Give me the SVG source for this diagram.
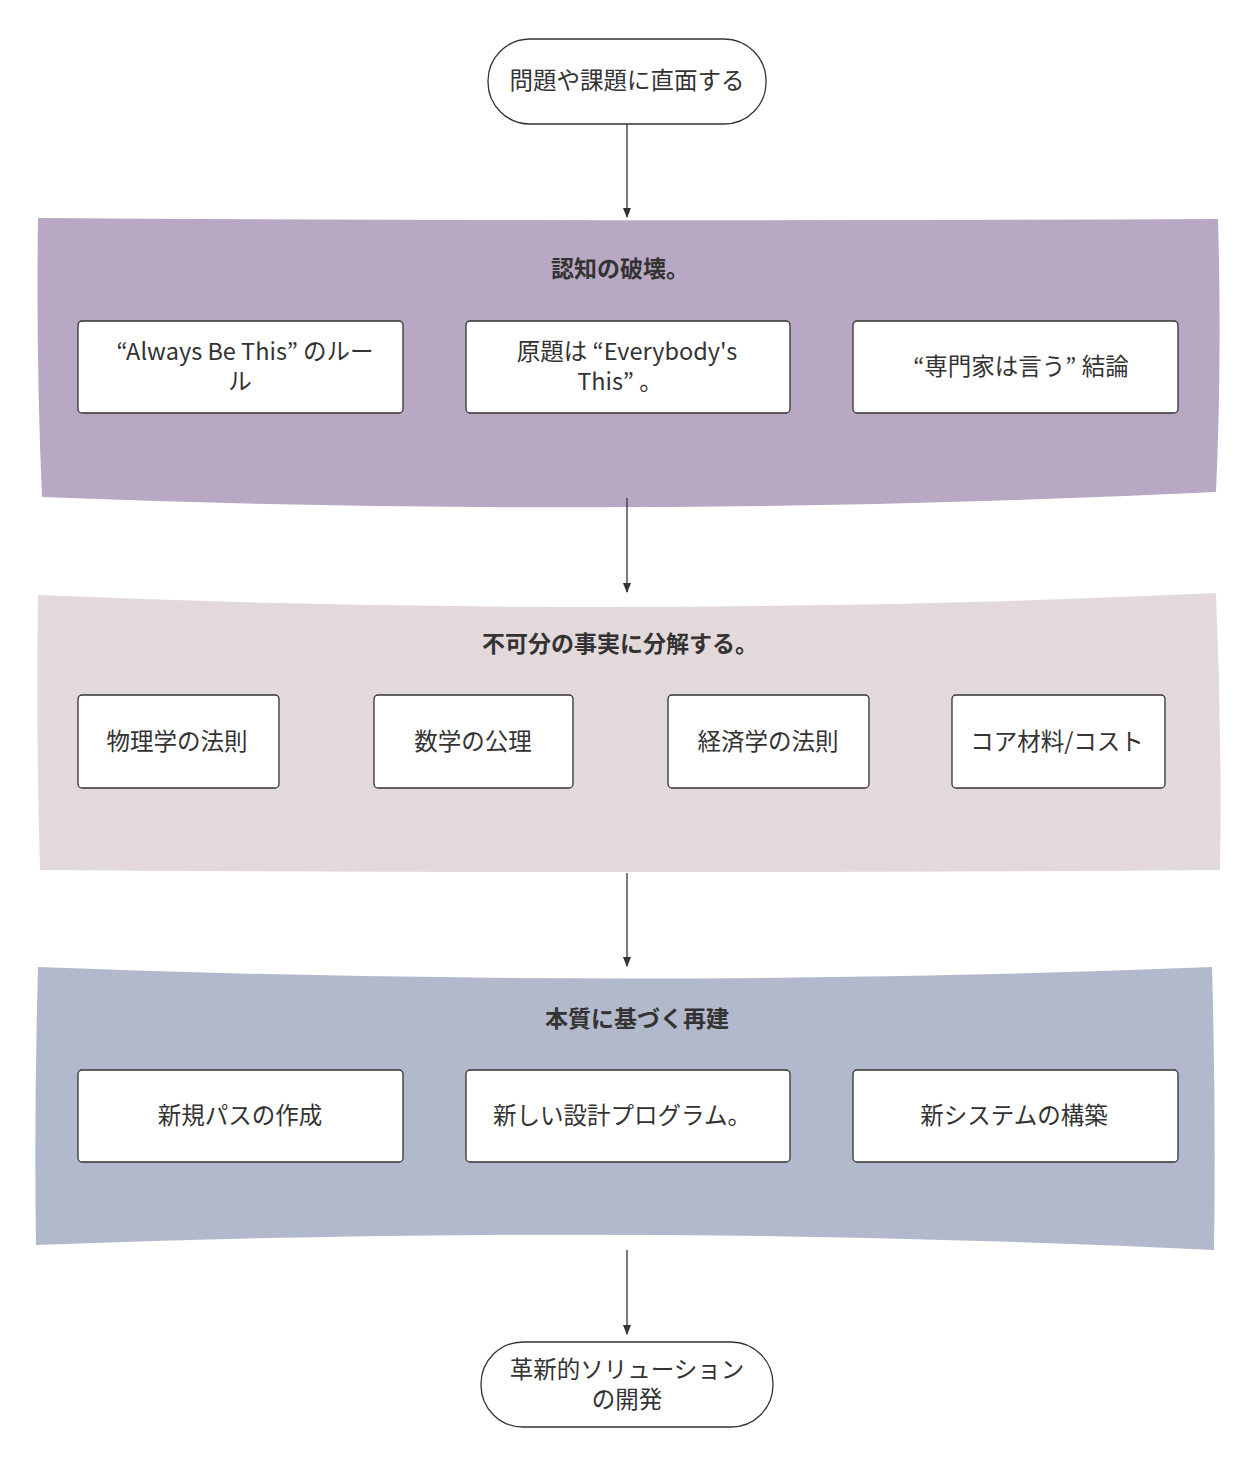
<svg xmlns="http://www.w3.org/2000/svg" width="1254" height="1464" viewBox="0 0 1254 1464">
<style>
text{font-family:"Noto Sans CJK JP","Noto Sans",sans-serif;fill:#333;font-size:23.5px;text-anchor:middle;dominant-baseline:central}
.t{font-weight:bold;font-size:23px}
.box{fill:#fff;stroke:#333;stroke-width:1.3}
.term{fill:#fff;stroke:#333;stroke-width:1.3}
.c{stroke:#333;stroke-width:1.3;fill:none;marker-end:url(#a)}
</style>
<defs><marker id="a" viewBox="0 0 10 10" refX="9" refY="5" markerWidth="8" markerHeight="8" orient="auto"><path d="M0,1 L10,5 L0,9 z" fill="#333"/></marker></defs>
<rect width="1254" height="1464" fill="#fff"/>
<g id="band1"><path d="M38,218 Q630,222 1218,219 Q1222,360 1216,492 Q630,520 42,497 Q36,360 38,218 z" fill="#b8a8c3"/><text class="t" x="620" y="267">認知の破壊。</text></g>
<g id="band2"><path d="M38,595 Q630,620 1216,593 Q1222,730 1220,870 Q630,874 40,870 Q36,730 38,595 z" fill="#e3d9db"/><text class="t" x="620" y="642">不可分の事実に分解する。</text></g>
<g id="band3"><path d="M38,967 Q630,990 1212,967 Q1216,1110 1214,1250 Q630,1222 36,1245 Q34,1110 38,967 z" fill="#b3b9cc"/><text class="t" x="637" y="1017">本質に基づく再建</text></g>
<g id="start"><rect class="term" x="488" y="39" width="278" height="85" rx="42"/><text x="627" y="79">問題や課題に直面する</text></g>
<g id="n1"><rect class="box" x="78" y="321" width="325" height="92" rx="4"/><text x="245" y="350">“Always Be This” のルー<tspan x="240" dy="30">ル</tspan></text></g>
<g id="n2"><rect class="box" x="466" y="321" width="324" height="92" rx="4"/><text x="627" y="350">原題は “Everybody's<tspan x="620" dy="30">This” 。</tspan></text></g>
<g id="n3"><rect class="box" x="853" y="321" width="325" height="92" rx="4"/><text x="1021" y="365">“専門家は言う” 結論</text></g>
<g id="n4"><rect class="box" x="78" y="695" width="201" height="93" rx="4"/><text x="177" y="740">物理学の法則</text></g>
<g id="n5"><rect class="box" x="374" y="695" width="199" height="93" rx="4"/><text x="473" y="740">数学の公理</text></g>
<g id="n6"><rect class="box" x="668" y="695" width="201" height="93" rx="4"/><text x="768" y="740">経済学の法則</text></g>
<g id="n7"><rect class="box" x="952" y="695" width="213" height="93" rx="4"/><text x="1057" y="740">コア材料/コスト</text></g>
<g id="n8"><rect class="box" x="78" y="1070" width="325" height="92" rx="4"/><text x="240" y="1114">新規パスの作成</text></g>
<g id="n9"><rect class="box" x="466" y="1070" width="324" height="92" rx="4"/><text x="622" y="1114">新しい設計プログラム。</text></g>
<g id="n10"><rect class="box" x="853" y="1070" width="325" height="92" rx="4"/><text x="1014" y="1114">新システムの構築</text></g>
<g id="end"><rect class="term" x="481" y="1342" width="292" height="85" rx="42"/><text x="627" y="1368">革新的ソリューション<tspan x="627" dy="30">の開発</tspan></text></g>
<g id="connectors">
<path class="c" d="M627,124 V217"/>
<path class="c" d="M627,498 V592"/>
<path class="c" d="M627,873 V966"/>
<path class="c" d="M627,1250 V1334"/>
</g>
</svg>
